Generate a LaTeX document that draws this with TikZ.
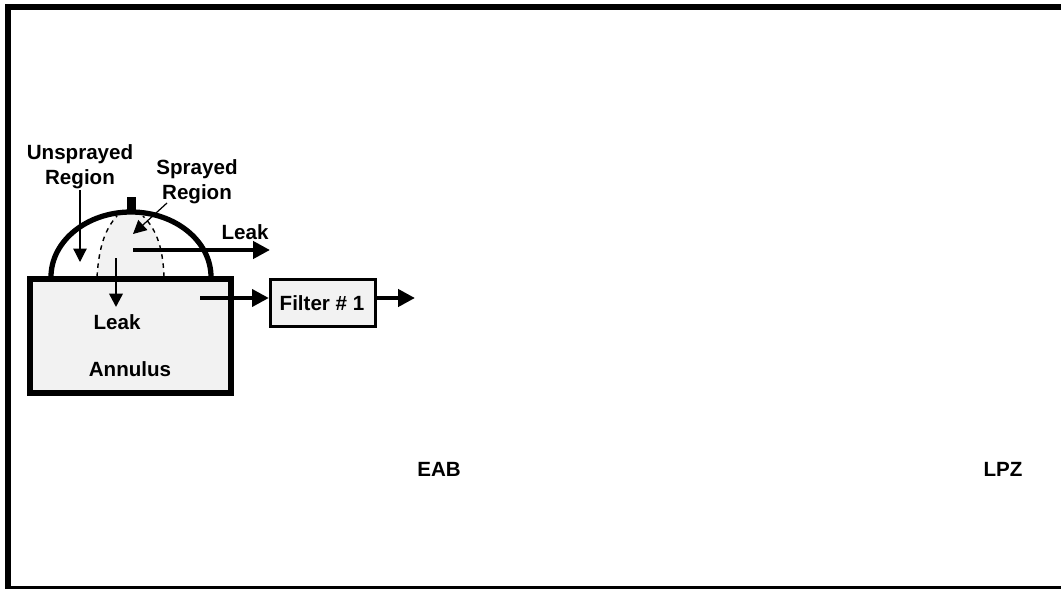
\documentclass[tikz,border=0pt]{standalone}
\usepackage{fontspec}
\setmainfont{Liberation Sans}
\usetikzlibrary{arrows.meta,positioning}
\definecolor{lightfill}{HTML}{F2F2F2}
\tikzset{
  lbl/.style={font=\fontsize{5.85pt}{7.1pt}\selectfont\bfseries,align=center,inner sep=0pt},
  thinarrow/.style={-{Triangle[length=3.8pt,width=3.8pt]},line width=0.35pt},
  midarrow/.style={-{Triangle[length=3.8pt,width=3.8pt]},line width=0.7pt},
  fatarrow/.style={-{Triangle[length=4.8pt,width=4.8pt]},line width=1.3pt},
  spraydash/.style={dash pattern=on 1.3pt off 1.3pt,line width=0.4pt}
}
\begin{document}
\begin{tikzpicture}[x=0.01cm,y=-0.01cm]
\useasboundingbox (0,0) rectangle (1061,588);
\clip (0,0) rectangle (1061,588);
% Outer frame, open at the right
\draw[line width=1.7pt] (1061,7) -- (8,7) -- (8,589) -- (1061,589);

% Dome with sprayed part
\fill[lightfill] (97,277) .. controls (99,245) and (106,228) .. (117,214) -- (143,214) .. controls (155,228) and (163,245) .. (164,277) -- cycle;
\draw[spraydash] (97,277) .. controls (99,245) and (106,228) .. (117,216);
\draw[spraydash] (164,277) .. controls (163,245) and (155,228) .. (143,216);
\draw[line width=1.5pt] (51,277) arc[start angle=180,end angle=0,x radius=80,y radius=-65];
\fill (127,197) rectangle (136,212);

% Boxes
\node[draw,fill=lightfill,line width=1.7pt,minimum width=2.01cm,minimum height=1.14cm,inner sep=0pt] (annulus) at (130.5,336) {};
\node[draw,fill=lightfill,line width=0.9pt,minimum width=1.05cm,minimum height=0.47cm,inner sep=0pt] (filter) at (323,303) {};

% Labels
\node[lbl] (unsprayed) at (80,167) {Unsprayed\\Region};
\node[lbl] (sprayed) at (197,182) {Sprayed\\Region};
\node[lbl] (leakout) at (245,232) {Leak};
\node[lbl] (leakin) at (117,322) {Leak};
\node[lbl] (annuluslbl) at (130,369) {Annulus};
\node[lbl] (filterlbl) at (322,303) {Filter \# 1};
\node[lbl] (eab) at (439,469) {EAB};
\node[lbl] (lpz) at (1003,469) {LPZ};

% Free ends
\coordinate (a1) at (80,262);
\coordinate (a2) at (133,234);
\coordinate (a3) at (133,250);
\coordinate (a4) at (270,250);
\coordinate (a5) at (116,258);
\coordinate (a6) at (116,307);
\coordinate (a7) at (200,298);
\coordinate (a8) at (415,298);

% Arrows
\draw[thinarrow] (unsprayed.south -| a1) -- (a1);
\draw[thinarrow] (167,203) -- (a2);
\draw[fatarrow] (a3) -- (a4);
\draw[midarrow] (a5) -- (a6);
\draw[fatarrow] (a7) -- (filter.west |- a7);
\draw[fatarrow] (filter.east |- a8) -- (a8);
\end{tikzpicture}
\end{document}
